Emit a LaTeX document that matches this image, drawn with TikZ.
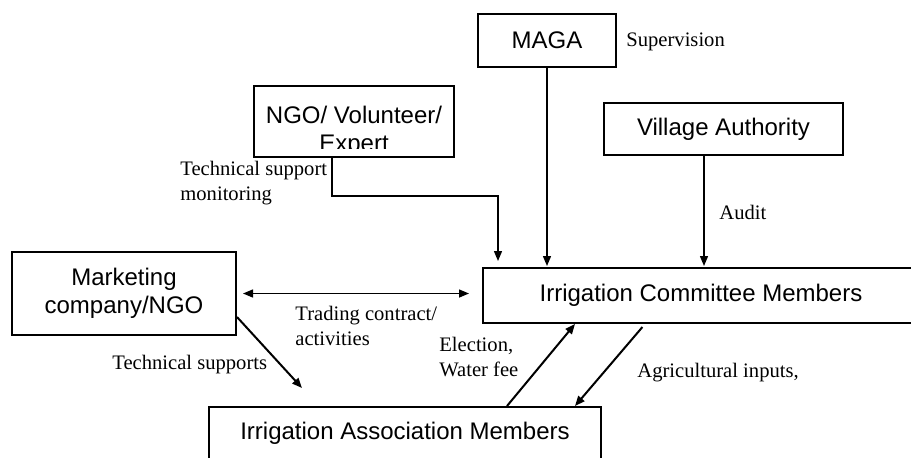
\documentclass[tikz,border=0pt]{standalone}
\usepackage{fontspec}
\setmainfont{Liberation Serif}
\newfontfamily\arialfont{Liberation Sans}
\usetikzlibrary{arrows.meta}

\begin{document}
\begin{tikzpicture}[x=0.5pt,y=-0.5pt,>={Triangle[length=5pt,width=4pt]},
  box/.style={draw,line width=1pt,inner sep=0pt,align=center,font=\arialfont\fontsize{12}{14}\selectfont},
  boxtext/.style={inner sep=0pt,align=center,font=\arialfont\fontsize{12}{14}\selectfont},
  lbl/.style={inner sep=0pt,anchor=west,align=left,font=\fontsize{10.3}{12.5}\selectfont}]
\clip (0,0) rectangle (911,457);
\node[box,minimum width=69pt,minimum height=26.5pt] (maga) at (547,40.5) {MAGA};
\node[box,minimum width=119.5pt,minimum height=26pt] (village) at (723.5,129) {Village Authority};
\node[box,minimum width=100pt,minimum height=35.5pt] (ngo) at (354,121.5) {};
\begin{scope}
\clip (ngo.north west) rectangle ([yshift=5pt]ngo.south east);
\node[boxtext] (ngotext) at (354,131) {NGO/ Volunteer/\\Expert};
\end{scope}
\node[box,minimum width=112pt,minimum height=41.5pt] (market) at (124,293.5) {Marketing\\company/NGO};
\node[box,minimum width=218pt,minimum height=27.5pt] (committee) at (701,295.5) {Irrigation Committee Members};
\node[box,minimum width=196pt,minimum height=26pt] (assoc) at (405,433) {Irrigation Association Members};
\node[lbl] (supervision) at (626,42) {Supervision};
\node[lbl] (audit) at (719,212) {Audit};
\node[lbl] (techmon) at (180,183.5) {Technical support\\monitoring};
\node[lbl] (trading) at (295,325.5) {Trading contract/\\activities};
\node[lbl] (techsup) at (112,365) {Technical supports};
\node[lbl] (election) at (439,356.5) {Election,\\Water fee};
\node[lbl] (agri) at (637,373) {Agricultural inputs,};
\coordinate (ngobend) at (498,196);
\coordinate (techend) at (302,388);
\draw[->,line width=0.7pt,shorten >=0.5pt] (maga) -- (maga |- committee.north);
\draw[->,line width=0.7pt,shorten >=0.5pt] ([xshift=-9.75pt]village.south) -- ([xshift=-9.75pt]village.south |- committee.north);
\draw[->,line width=0.7pt,shorten >=3pt] ([xshift=-11pt]ngo.south) |- (ngobend) -- (ngobend |- committee.north);
\draw[<->,line width=0.7pt,shorten <=3pt,shorten >=6.5pt] (market.east) -- (market.east -| committee.west);
\draw[->,line width=1pt] ([yshift=-11.75pt]market.east) -- (techend);
\draw[->,line width=1pt] ([xshift=51pt]assoc.north) -- ([xshift=-63pt]committee.south);
\draw[->,line width=1pt,shorten <=2pt] ([xshift=-28pt]committee.south) -- ([xshift=85pt]assoc.north);
\end{tikzpicture}
\end{document}
